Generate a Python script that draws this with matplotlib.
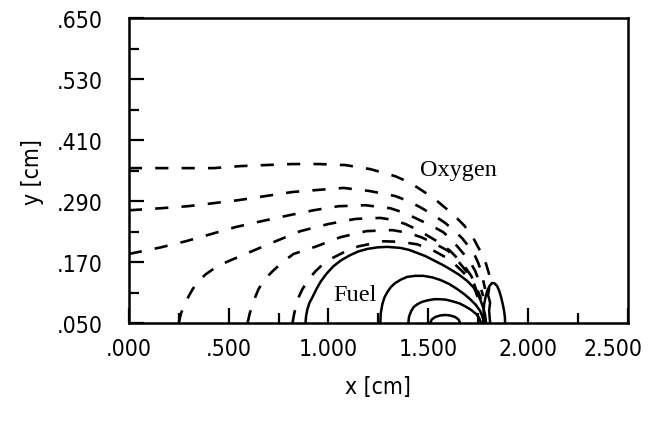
import numpy as np
import matplotlib
matplotlib.use("Agg")
import matplotlib.pyplot as plt
from matplotlib.ticker import MultipleLocator, FixedLocator
from matplotlib.transforms import ScaledTranslation

# Oxygen contours (dashed), x [cm], y [cm]
oxy_a_x = [0.0, 0.16, 0.295, 0.425, 0.56, 0.685, 0.82, 0.95, 1.085, 1.21, 1.335, 1.405, 1.465, 1.53, 1.585, 1.64, 1.68, 1.72, 1.745, 1.77, 1.79, 1.815]
oxy_a_y = [0.355, 0.355, 0.355, 0.355, 0.359, 0.361, 0.363, 0.363, 0.361, 0.353, 0.339, 0.327, 0.312, 0.295, 0.277, 0.258, 0.242, 0.222, 0.203, 0.185, 0.166, 0.133]
oxy_b_x = [0.0, 0.16, 0.295, 0.425, 0.55, 0.685, 0.82, 0.945, 1.075, 1.205, 1.335, 1.40, 1.46, 1.525, 1.585, 1.63, 1.67, 1.70, 1.73, 1.75, 1.765, 1.785]
oxy_b_y = [0.272, 0.276, 0.280, 0.286, 0.292, 0.300, 0.308, 0.312, 0.316, 0.310, 0.300, 0.290, 0.278, 0.263, 0.247, 0.232, 0.217, 0.202, 0.186, 0.169, 0.152, 0.117]
oxy_c_x = [0.0, 0.16, 0.285, 0.41, 0.535, 0.67, 0.8, 0.925, 1.05, 1.185, 1.31, 1.38, 1.445, 1.515, 1.575, 1.615, 1.65, 1.68, 1.71, 1.735, 1.75, 1.775]
oxy_c_y = [0.186, 0.199, 0.211, 0.225, 0.239, 0.251, 0.262, 0.272, 0.280, 0.282, 0.276, 0.267, 0.255, 0.242, 0.229, 0.215, 0.199, 0.185, 0.170, 0.153, 0.137, 0.103]
oxy_d_x = [0.25, 0.262, 0.28, 0.30, 0.32, 0.35, 0.385, 0.44, 0.5, 0.62, 0.735, 0.86, 1.0, 1.135, 1.26, 1.325, 1.385, 1.45, 1.51, 1.565, 1.61, 1.65, 1.685, 1.715, 1.735, 1.765]
oxy_d_y = [0.05, 0.07, 0.087, 0.103, 0.117, 0.133, 0.146, 0.161, 0.172, 0.192, 0.211, 0.231, 0.245, 0.255, 0.257, 0.253, 0.245, 0.233, 0.219, 0.206, 0.192, 0.176, 0.160, 0.143, 0.127, 0.097]
oxy_e_x = [0.595, 0.605, 0.62, 0.635, 0.65, 0.68, 0.72, 0.77, 0.825, 0.94, 1.06, 1.19, 1.32, 1.395, 1.465, 1.535, 1.6, 1.64, 1.675, 1.705, 1.73, 1.76]
oxy_e_y = [0.05, 0.068, 0.087, 0.103, 0.117, 0.136, 0.152, 0.170, 0.186, 0.201, 0.219, 0.231, 0.233, 0.228, 0.219, 0.206, 0.192, 0.176, 0.160, 0.144, 0.127, 0.093]
oxy_f_x = [0.82, 0.828, 0.84, 0.853, 0.87, 0.90, 0.935, 0.97, 1.01, 1.08, 1.15, 1.275, 1.36, 1.445, 1.52, 1.585, 1.63, 1.67, 1.705, 1.73, 1.76]
oxy_f_y = [0.05, 0.068, 0.087, 0.103, 0.117, 0.136, 0.152, 0.165, 0.176, 0.190, 0.201, 0.211, 0.210, 0.205, 0.194, 0.180, 0.167, 0.152, 0.137, 0.121, 0.087]

# Fuel contours (solid)
fuel_1_x = [0.885, 0.888, 0.895, 0.905, 0.92, 0.94, 0.96, 0.99, 1.025, 1.065, 1.11, 1.15, 1.195, 1.245, 1.295, 1.36, 1.405, 1.445, 1.485, 1.525, 1.57, 1.61, 1.655, 1.695, 1.725, 1.745, 1.762, 1.775, 1.785, 1.79]
fuel_1_y = [0.05, 0.064, 0.078, 0.09, 0.101, 0.117, 0.131, 0.147, 0.162, 0.174, 0.184, 0.191, 0.196, 0.199, 0.200, 0.198, 0.194, 0.188, 0.182, 0.174, 0.165, 0.156, 0.145, 0.133, 0.121, 0.109, 0.095, 0.081, 0.066, 0.05]
fuel_2_x = [1.26, 1.262, 1.27, 1.28, 1.295, 1.313, 1.335, 1.365, 1.395, 1.435, 1.475, 1.52, 1.56, 1.605, 1.645, 1.68, 1.71, 1.738, 1.76, 1.772, 1.78]
fuel_2_y = [0.05, 0.069, 0.087, 0.1, 0.111, 0.121, 0.129, 0.136, 0.141, 0.143, 0.143, 0.14, 0.135, 0.127, 0.117, 0.107, 0.097, 0.086, 0.074, 0.062, 0.05]
fuel_3_x = [1.40, 1.404, 1.415, 1.428, 1.445, 1.47, 1.5, 1.53, 1.56, 1.59, 1.62, 1.655, 1.685, 1.715, 1.74, 1.755, 1.765]
fuel_3_y = [0.05, 0.063, 0.074, 0.082, 0.087, 0.092, 0.095, 0.097, 0.097, 0.096, 0.093, 0.089, 0.083, 0.076, 0.068, 0.06, 0.05]
fuel_4_x = [1.51, 1.517, 1.535, 1.56, 1.585, 1.61, 1.635, 1.652, 1.66]
fuel_4_y = [0.05, 0.057, 0.062, 0.065, 0.066, 0.065, 0.062, 0.057, 0.05]
bump_x = [1.775, 1.777, 1.78, 1.787, 1.795, 1.807, 1.82, 1.833, 1.845, 1.856, 1.865, 1.873, 1.88, 1.884, 1.885]
bump_y = [0.05, 0.068, 0.087, 0.101, 0.113, 0.123, 0.129, 0.128, 0.123, 0.113, 0.101, 0.088, 0.074, 0.062, 0.05]
bump_in_x = [1.81, 1.805, 1.81, 1.8, 1.805]
bump_in_y = [0.05, 0.075, 0.09, 0.105, 0.118]

oxygen = [(oxy_a_x, oxy_a_y), (oxy_b_x, oxy_b_y), (oxy_c_x, oxy_c_y),
          (oxy_d_x, oxy_d_y), (oxy_e_x, oxy_e_y), (oxy_f_x, oxy_f_y)]
fuel = [(fuel_1_x, fuel_1_y), (fuel_2_x, fuel_2_y), (fuel_3_x, fuel_3_y),
        (fuel_4_x, fuel_4_y), (bump_x, bump_y), (bump_in_x, bump_in_y)]

x_ticks = [0.0, 0.5, 1.0, 1.5, 2.0, 2.5]
y_ticks = [0.05, 0.17, 0.29, 0.41, 0.53, 0.65]

tick_font = dict(family='DejaVu Sans', stretch='condensed', fontsize=16.5)
serif = ['Liberation Serif', 'DejaVu Serif']

fig = plt.figure(figsize=(6.54, 4.27), dpi=100)
ax = fig.add_axes([0.197, 0.241, 0.763, 0.714])

for xs, ys in oxygen:
    ax.plot(xs, ys, color='black', lw=1.9, linestyle=(0, (5.0, 5.0)), dash_capstyle='butt')
for xs, ys in fuel:
    ax.plot(xs, ys, color='black', lw=1.8)

ax.text(1.458, 0.352, 'Oxygen', family=serif, fontsize=17.5, va='center', ha='left')
ax.text(1.022, 0.107, 'Fuel', family=serif, fontsize=17.5, va='center', ha='left')

ax.set_xlim(0, 2.5)
ax.set_ylim(0.05, 0.65)
ax.xaxis.set_major_locator(FixedLocator(x_ticks))
ax.xaxis.set_minor_locator(MultipleLocator(0.25))
ax.yaxis.set_major_locator(FixedLocator(y_ticks))
ax.yaxis.set_minor_locator(FixedLocator([v + 0.06 for v in y_ticks[:-1]]))


def fmt(v):
    s = f"{v:.3f}"
    return s[1:] if s.startswith("0") else s


ax.set_xticklabels([fmt(v) for v in x_ticks], **tick_font)
ax.set_yticklabels([fmt(v) for v in y_ticks], **tick_font)
ax.tick_params(which='major', direction='in', length=11, width=1.6, top=False, right=False)
ax.tick_params(which='minor', direction='in', length=7, width=1.6, top=False, right=False)
ax.tick_params(axis='x', which='major', pad=10)
ax.tick_params(axis='y', which='major', pad=19)

# last x label pushed left to stay inside the figure
last = ax.get_xticklabels()[-1]
last.set_transform(last.get_transform() + ScaledTranslation(-0.15, 0, fig.dpi_scale_trans))

for sp in ax.spines.values():
    sp.set_linewidth(1.8)

ax.set_xlabel('x [cm]', family='DejaVu Sans', stretch='condensed', fontsize=16.5, labelpad=11)
ax.set_ylabel('y [cm]', family='DejaVu Sans', stretch='condensed', fontsize=16.5, labelpad=9)

fig.savefig('out.png', dpi=100)
